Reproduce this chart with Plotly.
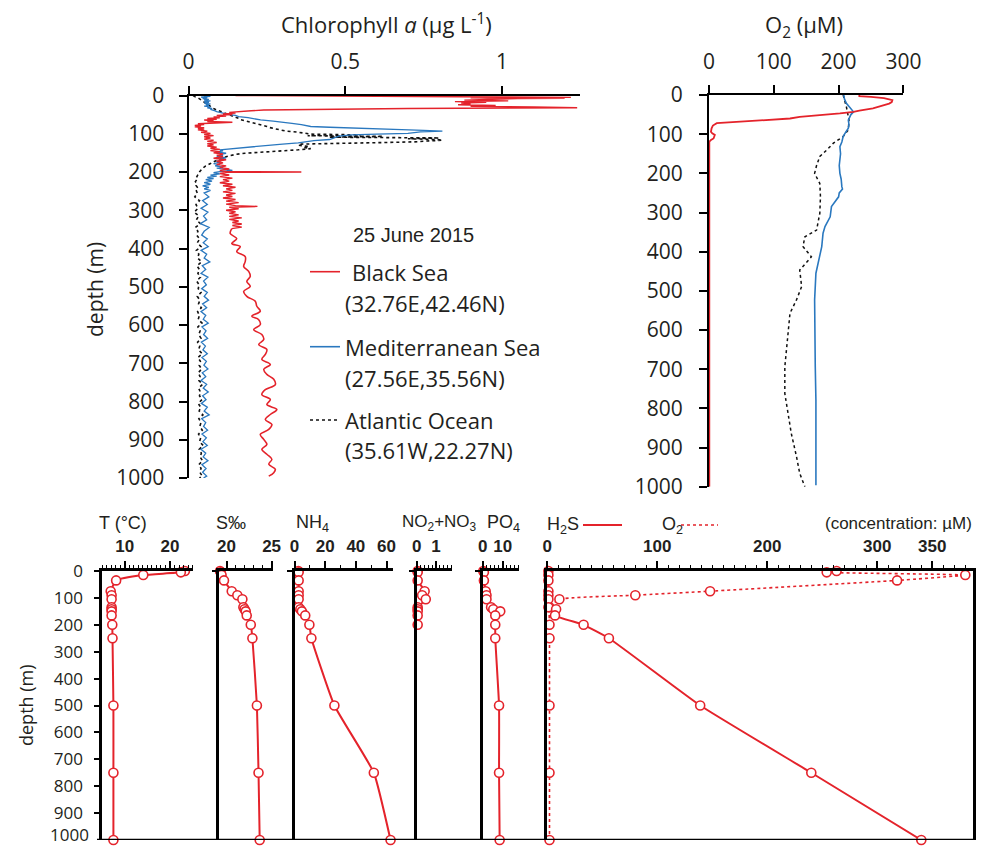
import plotly.graph_objects as go

# ---------------- data ----------------
# Chlorophyll a (ug/L), 25 June 2015
chl_bs_depth = [
    0, 1, 2, 3, 4, 5, 6, 7, 8, 10,
    12, 14, 16, 18, 20, 22, 24, 26, 28, 30,
    32, 34, 36, 38, 40, 42, 44, 46, 48, 50,
    52, 54, 56, 58, 60, 62, 64, 66, 68, 70,
    72, 74, 76, 78, 80, 82, 84, 86, 88, 90,
    93, 96, 99, 102, 105, 108, 111, 114, 117, 120,
    123, 126, 129, 132, 135, 138, 141, 144, 147, 150,
    153, 156, 160, 164, 168, 172, 176, 180, 184, 188,
    192, 196, 199, 200, 201, 204, 208, 212, 216, 220,
    224, 228, 232, 236, 240, 244, 248, 252, 256, 260,
    264, 268, 272, 276, 280, 284, 288, 290, 292, 296,
    300, 304, 308, 312, 316, 320, 324, 328, 332, 336,
    340, 344, 348,
    361, 374, 387, 395, 408, 421, 434, 447, 460, 473,
    486, 499, 512, 525, 538, 551, 564, 577, 586, 599,
    612, 625, 638, 651, 664, 677, 690, 703, 716, 729,
    742, 756, 769, 782, 795, 808, 821, 834, 847, 860,
    873, 886, 899, 912, 925, 938, 951, 964, 977, 986,
    995]
chl_bs = [
    0.15, 0.55, 0.3, 0.8, 1.0, 1.22, 0.9, 1.2, 1.05, 0.95,
    0.88, 1.02, 0.85, 0.95, 0.87, 0.9, 0.86, 0.98, 0.9, 1.1,
    1.24, 0.7, 0.4, 0.24, 0.2, 0.17, 0.13, 0.15, 0.11, 0.14,
    0.09, 0.12, 0.08, 0.1, 0.06, 0.09, 0.05, 0.08, 0.06, 0.14,
    0.05, 0.03, 0.05, 0.02, 0.04, 0.02, 0.05, 0.03, 0.05, 0.03,
    0.06, 0.04, 0.07, 0.05, 0.08, 0.05, 0.07, 0.05, 0.08, 0.06,
    0.09, 0.06, 0.08, 0.06, 0.09, 0.07, 0.1, 0.07, 0.1, 0.08,
    0.11, 0.09, 0.11, 0.08, 0.12, 0.09, 0.11, 0.09, 0.12, 0.1,
    0.13, 0.1, 0.12, 0.36, 0.12, 0.1, 0.13, 0.1, 0.14, 0.11,
    0.13, 0.1, 0.14, 0.11, 0.15, 0.12, 0.14, 0.11, 0.15, 0.12,
    0.14, 0.11, 0.15, 0.12, 0.16, 0.12, 0.15, 0.22, 0.13, 0.16,
    0.12, 0.15, 0.13, 0.16, 0.13, 0.17, 0.13, 0.16, 0.14, 0.17,
    0.14, 0.17, 0.138,
    0.133, 0.154, 0.138, 0.165, 0.154, 0.181, 0.181, 0.176, 0.192, 0.197,
    0.186, 0.197, 0.176, 0.186, 0.213, 0.218, 0.229, 0.202, 0.224, 0.229,
    0.208, 0.234, 0.240, 0.224, 0.250, 0.245, 0.234, 0.261, 0.240, 0.250,
    0.272, 0.277, 0.245, 0.234, 0.261, 0.250, 0.282, 0.261, 0.245, 0.266,
    0.256, 0.229, 0.240, 0.250, 0.234, 0.250, 0.266, 0.256, 0.277, 0.272,
    0.256]

chl_med_depth_upper = [
    0, 2, 4, 6, 8, 10, 12, 14, 16, 18,
    20, 22, 24, 26, 28, 30, 32, 34, 36, 38,
    40, 42, 44, 46, 48, 50, 52, 55, 58, 61,
    64, 67, 70, 73, 76, 79, 81, 83, 85, 87,
    89, 91, 93, 95, 97, 99, 101, 103, 106, 109,
    112, 115, 118, 121, 124, 127, 130, 133, 136, 139,
    142, 145, 148, 151, 154, 157, 160, 163, 166, 169,
    172, 175, 178, 181, 184, 187, 190, 193, 196, 199,
    202, 205, 208, 211, 214, 217, 220, 224, 228, 232,
    236, 240, 244, 248]
chl_med_upper = [
    0.05, 0.07, 0.04, 0.06, 0.045, 0.065, 0.05, 0.07, 0.05, 0.065,
    0.05, 0.07, 0.055, 0.065, 0.05, 0.07, 0.06, 0.075, 0.07, 0.08,
    0.085, 0.09, 0.1, 0.11, 0.12, 0.13, 0.15, 0.16, 0.19, 0.21,
    0.23, 0.27, 0.31, 0.33, 0.36, 0.38, 0.39, 0.45, 0.55, 0.62,
    0.68, 0.75, 0.81, 0.74, 0.72, 0.7, 0.6, 0.52, 0.48, 0.47,
    0.46, 0.45, 0.4, 0.37, 0.35, 0.3, 0.26, 0.22, 0.17, 0.12,
    0.1, 0.11, 0.09, 0.12, 0.1, 0.11, 0.09, 0.12, 0.1, 0.11,
    0.09, 0.1, 0.08, 0.1, 0.085, 0.11, 0.09, 0.12, 0.14, 0.1,
    0.08, 0.1, 0.07, 0.09, 0.06, 0.08, 0.055, 0.075, 0.05, 0.07,
    0.045, 0.065, 0.05, 0.07]

chl_deep_depth = [
    255, 265, 275, 285, 295, 305, 315, 325, 335, 345,
    355, 365, 375, 385, 395, 405, 415, 425, 435, 445,
    455, 465, 475, 485, 495, 505, 515, 525, 535, 545,
    555, 565, 575, 585, 595, 605, 615, 625, 635, 645,
    655, 665, 675, 685, 695, 705, 715, 725, 735, 745,
    755, 765, 775, 785, 795, 805, 815, 825, 835, 845,
    855, 865, 875, 885, 895, 905, 915, 925, 935, 945,
    955, 965, 975, 985, 995, 1000]
chl_med_deep = [
    0.05, 0.065, 0.045, 0.06, 0.04, 0.062, 0.048, 0.058, 0.038, 0.066,
    0.05, 0.042, 0.06, 0.047, 0.063, 0.04, 0.058, 0.05, 0.068, 0.044,
    0.055, 0.04, 0.062, 0.048, 0.057, 0.042, 0.06, 0.05, 0.064, 0.045,
    0.058, 0.04, 0.055, 0.047, 0.063, 0.043, 0.056, 0.048, 0.061, 0.041,
    0.054, 0.046, 0.06, 0.043, 0.057, 0.049, 0.062, 0.044, 0.055, 0.04,
    0.058, 0.047, 0.063, 0.045, 0.056, 0.041, 0.06, 0.05, 0.066, 0.042,
    0.055, 0.048, 0.061, 0.043, 0.057, 0.046, 0.06, 0.04, 0.055, 0.047,
    0.062, 0.043, 0.056, 0.045, 0.058, 0.048]

chl_atl_depth_upper = [
    0, 3, 6, 9, 12, 15, 18, 21, 24, 27,
    30, 33, 36, 39, 42, 45, 48, 51, 54, 57,
    60, 63, 66, 69, 72, 75, 78, 81, 84, 87,
    90, 93, 96, 99, 101, 103, 105, 107, 109, 111,
    113, 115, 117, 119, 121, 123, 125, 127, 130, 133,
    136, 139, 142, 145, 148, 151, 154, 157, 160, 163,
    166, 169, 172, 175, 178, 181, 184, 187, 190, 195,
    200, 205, 210, 215, 220, 225, 230, 235, 240, 245]
chl_atl_upper = [
    0.015, 0.02, 0.03, 0.035, 0.04, 0.045, 0.05, 0.055, 0.06, 0.065,
    0.07, 0.078, 0.085, 0.095, 0.1, 0.11, 0.12, 0.13, 0.14, 0.15,
    0.16, 0.165, 0.18, 0.19, 0.21, 0.22, 0.235, 0.25, 0.26, 0.28,
    0.29, 0.31, 0.35, 0.38, 0.39, 0.55, 0.38, 0.62, 0.45, 0.8,
    0.7, 0.79, 0.81, 0.76, 0.73, 0.62, 0.45, 0.36, 0.35, 0.38,
    0.37, 0.39, 0.35, 0.28, 0.22, 0.18, 0.15, 0.13, 0.12, 0.11,
    0.1, 0.09, 0.085, 0.075, 0.07, 0.06, 0.055, 0.05, 0.045, 0.04,
    0.035, 0.03, 0.028, 0.025, 0.027, 0.022, 0.026, 0.024, 0.028, 0.023]
chl_atl_deep = [
    0.028, 0.02, 0.035, 0.024, 0.03, 0.018, 0.033, 0.025, 0.038, 0.022,
    0.03, 0.026, 0.036, 0.028, 0.04, 0.025, 0.033, 0.029, 0.042, 0.027,
    0.035, 0.03, 0.038, 0.026, 0.034, 0.031, 0.04, 0.028, 0.036, 0.032,
    0.041, 0.029, 0.035, 0.031, 0.043, 0.03, 0.037, 0.033, 0.04, 0.029,
    0.036, 0.032, 0.044, 0.03, 0.038, 0.034, 0.042, 0.031, 0.037, 0.033,
    0.045, 0.032, 0.038, 0.035, 0.043, 0.031, 0.039, 0.034, 0.046, 0.033,
    0.04, 0.036, 0.044, 0.032, 0.039, 0.035, 0.047, 0.034, 0.041, 0.037,
    0.045, 0.033, 0.04, 0.036, 0.044, 0.035]

# O2 (uM), top-right panel
o2_bs_depth = [0, 3, 5, 8, 13, 18, 22, 27, 34, 40, 43, 47, 52, 56, 60, 64, 68, 72,
               78, 85, 94, 98, 102, 106, 111, 115, 119, 150, 300, 500, 700, 900, 1000]
o2_bs = [232, 232, 250, 270, 283, 282, 278, 268, 253, 232, 223, 202, 165, 140, 125, 90, 48, 12,
         6, 4, 3, 5, 9, 8, 7, 3, 0.5, 0.5, 0.5, 0.5, 0.5, 0.5, 0.5]
o2_med_depth = [0, 10, 21, 30, 38, 43, 50, 64, 75, 85, 95, 106, 120, 132, 150, 166, 180, 200,
                215, 234, 240, 250, 260, 285, 311, 336, 353, 387, 421, 455, 523, 609, 694,
                779, 864, 996]
o2_med = [208, 209, 212, 216, 220, 223, 219, 215, 216, 215, 211, 207, 205, 202, 203, 202, 201, 202,
          204, 205, 206, 201, 200, 189, 187, 179, 176, 174, 169, 165, 163, 163, 164,
          165, 165, 165]
o2_atl_depth = [0, 30, 64, 89, 106, 123, 140, 157, 180, 200, 226, 260, 302, 345, 362, 387, 413,
                447, 489, 523, 557, 609, 660, 694, 762, 813, 864, 923, 966, 1000]
o2_atl = [207, 212, 216, 215, 207, 192, 182, 171, 166, 163, 171, 172, 171, 166, 148, 145, 158,
          140, 143, 135, 125, 122, 120, 117, 117, 122, 127, 135, 140, 148]

# Bottom panels: bottle profiles (Black Sea)
t_depth = [0, 5, 15, 35, 75, 90, 105, 135, 142, 150, 165, 200, 250, 500, 750, 1000]
t_val = [23.3, 22.4, 14.1, 8.1, 6.9, 7.1, 7.1, 7.1, 7.1, 7.1, 7.1, 7.25, 7.3, 7.5, 7.5, 7.5]
s_depth = [0, 5, 15, 35, 75, 90, 105, 135, 142, 150, 165, 200, 250, 500, 750, 1000]
s_val = [19.28, 19.35, 19.45, 19.72, 20.58, 21.2, 21.76, 21.87, 22.0, 22.13, 22.24, 22.69,
         22.87, 23.37, 23.55, 23.68]
nh4_depth = [0, 5, 35, 75, 90, 105, 135, 142, 150, 165, 200, 250, 500, 750, 1000]
nh4_val = [2.5, 2.7, 2.7, 2.7, 2.7, 2.7, 2.7, 3.8, 4.8, 7.0, 9.7, 11.0, 26.0, 51.7, 62.6]
nox_depth = [0, 5, 35, 75, 90, 105, 135, 142, 150, 165, 200]
nox_val = [0.05, 0.05, 0.05, 0.41, 0.28, 0.47, 0.05, 0.05, 0.05, 0.05, 0.05]
po4_depth = [0, 5, 35, 75, 90, 105, 135, 142, 150, 165, 200, 250, 500, 750, 1000]
po4_val = [0.3, 0.6, 0.6, 1.5, 1.9, 1.9, 4.2, 5.3, 8.8, 6.3, 6.3, 6.3, 8.2, 8.2, 8.5]
h2s_depth = [0, 15, 35, 75, 90, 105, 135, 142, 165, 200, 250, 500, 750, 1000]
h2s_val = [1, 1, 1, 1, 1, 1, 1, 8, 7, 33, 56, 139, 240, 340]
o2b_depth = [0, 5, 15, 35, 75, 90, 105, 135, 200, 250, 500, 750, 1000]
o2b_val = [263, 254, 380, 318, 148, 80, 11, 2, 2, 2, 2, 2, 2]

# tick labels
depth_ticks = [0, 100, 200, 300, 400, 500, 600, 700, 800, 900, 1000]
depth_text = ["0", "100", "200", "300", "400", "500", "600", "700", "800", "900", "1000"]
chl_ticks = [0, 0.5, 1]
chl_minor = [0, 0.25, 0.5, 0.75, 1, 1.25]
o2_ticks = [0, 100, 200, 300]
o2_minor = [0, 50, 100, 150, 200, 250, 300]
t_ticks = [10, 20]
s_ticks = [20, 25]
nh4_ticks = [0, 20, 40, 60]
nox_ticks = [0, 1]
po4_ticks = [0, 10]
h2s_ticks = [0, 100, 200, 300, 350]

for a, b in [(chl_bs_depth, chl_bs), (chl_med_depth_upper, chl_med_upper),
             (chl_deep_depth, chl_med_deep), (chl_atl_depth_upper, chl_atl_upper),
             (chl_deep_depth, chl_atl_deep), (o2_bs_depth, o2_bs), (o2_med_depth, o2_med),
             (o2_atl_depth, o2_atl), (t_depth, t_val), (s_depth, s_val), (nh4_depth, nh4_val),
             (nox_depth, nox_val), (po4_depth, po4_val), (h2s_depth, h2s_val),
             (o2b_depth, o2b_val)]:
    assert len(a) == len(b), (len(a), len(b))

# ---------------- styling ----------------
W, H = 983, 848
def fx(x): return x / W
def fy(y): return 1 - y / H

RED = "#E4232B"
BLUE = "#2A78BF"
BLACK = "#111111"
TXT = "#231F20"
SANS = "'Open Sans', Lato, sans-serif"
ARIAL = "'Liberation Sans', Arial, sans-serif"
NARROW = "'Liberation Sans Narrow', 'Arial Narrow', 'Liberation Sans', sans-serif"

fig = go.Figure()

def add_line(x, y, xa, ya, color, width, dash="solid", shape="linear"):
    fig.add_trace(go.Scatter(x=x, y=y, xaxis=xa, yaxis=ya, mode="lines",
                             line=dict(color=color, width=width, dash=dash, shape=shape),
                             hoverinfo="skip", cliponaxis=False))

# chlorophyll panel
split = chl_bs_depth.index(348)
add_line(chl_atl_upper + chl_atl_deep, chl_atl_depth_upper + chl_deep_depth, "x", "y", BLACK, 1.6, "dot")
add_line(chl_med_upper + chl_med_deep, chl_med_depth_upper + chl_deep_depth, "x", "y", BLUE, 1.3)
add_line(chl_bs[:split + 1], chl_bs_depth[:split + 1], "x", "y", RED, 1.4)
add_line(chl_bs[split:], chl_bs_depth[split:], "x", "y", RED, 1.6, shape="spline")

# O2 panel
add_line(o2_atl, o2_atl_depth, "x2", "y2", BLACK, 1.5, "dot")
add_line(o2_med, o2_med_depth, "x2", "y2", BLUE, 1.6)
add_line(o2_bs, o2_bs_depth, "x2", "y2", RED, 1.8)

def add_prof(x, y, xa, ya, dash="solid"):
    fig.add_trace(go.Scatter(x=x, y=y, xaxis=xa, yaxis=ya, mode="lines+markers",
                             line=dict(color=RED, width=2 if dash == "solid" else 1.6, dash=dash,
                                       shape="spline", smoothing=0.4),
                             marker=dict(symbol="circle", size=9, color="white",
                                         line=dict(color=RED, width=1.6)),
                             hoverinfo="skip", cliponaxis=False))

add_prof(t_val, t_depth, "x3", "y3")
add_prof(s_val, s_depth, "x4", "y4")
add_prof(nh4_val, nh4_depth, "x5", "y5")
add_prof(nox_val, nox_depth, "x6", "y6")
add_prof(po4_val, po4_depth, "x7", "y7")
add_prof(o2b_val, o2b_depth, "x8", "y8", dash="dot")
add_prof(h2s_val, h2s_depth, "x8", "y8")

base = dict(showgrid=False, zeroline=False, showline=True, linecolor="black",
            tickcolor="black", fixedrange=True, automargin=False, ticklabeloverflow="allow")
overlay = dict(showgrid=False, zeroline=False, showline=False, showticklabels=False,
               tickcolor="black", fixedrange=True, automargin=False)

top_font = dict(family=SANS, size=21, color=TXT)
bot_yfont = dict(family=SANS, size=17, color=TXT)
bot_xfont = dict(family=NARROW, size=17, color=TXT, weight="bold")

layout = dict(
    template="none",
    width=W, height=H, margin=dict(l=0, r=0, t=0, b=0, autoexpand=False),
    paper_bgcolor="white", plot_bgcolor="rgba(0,0,0,0)", showlegend=False,
    xaxis=dict(base, domain=[fx(188.5), fx(580.3)], range=[0, 1.25], side="top", anchor="y",
               tickmode="array", tickvals=chl_ticks, ticks="outside", ticklen=8, tickwidth=1.5,
               linewidth=2, tickfont=top_font, ticklabelstandoff=8),
    xaxis9=dict(overlay, overlaying="x", anchor="y", side="top", range=[0, 1.25], tickmode="array",
                tickvals=chl_minor, ticks="inside", ticklen=8, tickwidth=1.5),
    yaxis=dict(base, domain=[fy(478), fy(95.5)], range=[1000, 0], anchor="x", tickmode="array",
               tickvals=depth_ticks, ticks="outside", ticklen=8, tickwidth=1.5, linewidth=2,
               tickfont=top_font, ticklabelstandoff=10),
    xaxis2=dict(base, domain=[fx(709), fx(903.4)], range=[0, 300], side="top", anchor="y2",
                tickmode="array", tickvals=o2_ticks, ticks="outside", ticklen=8, tickwidth=1.5,
                linewidth=2, tickfont=top_font, ticklabelstandoff=8),
    xaxis10=dict(overlay, overlaying="x2", anchor="y2", side="top", range=[0, 300], tickmode="array",
                 tickvals=o2_minor, ticks="inside", ticklen=8, tickwidth=1.5),
    yaxis2=dict(base, domain=[fy(486.7), fy(95)], range=[1000, 0], anchor="x2", tickmode="array",
                tickvals=depth_ticks, ticks="outside", ticklen=8, tickwidth=1.5, linewidth=2,
                tickfont=top_font, ticklabelstandoff=12),
)

bot_dom_y = [fy(840), fy(571)]
panels = [
    # axis idx, x px domain, range, major ticks, minor dtick
    (3, (102.1, 192.6), [5, 25], t_ticks, 1),
    (4, (219.3, 272.5), [19.2, 25.1], s_ticks, 1),
    (5, (294.5, 392.7), [0, 64], nh4_ticks, 10),
    (6, (416.7, 451.7), [0, 1.81], nox_ticks, 0.2),
    (7, (482.7, 519.0), [0, 18.2], po4_ticks, 2),
    (8, (547.3, 973.0), [0, 387], h2s_ticks, 10),
]
for i, (x0, x1), rng, tv, mdt in panels:
    layout[f"xaxis{i}"] = dict(base, domain=[fx(x0), fx(x1)], range=rng, side="top",
                               anchor=f"y{i}", tickmode="array", tickvals=tv, ticks="outside",
                               ticklen=7, tickwidth=1.5, linewidth=2.5, tickfont=bot_xfont,
                               ticklabelstandoff=2,
                               minor=dict(tickmode="linear", tick0=0, dtick=mdt, ticks="outside",
                                          ticklen=3.5, tickwidth=1, tickcolor="black"))
    ya = dict(base, domain=bot_dom_y, range=[1000, 0], anchor=f"x{i}", linewidth=2.5)
    if i == 3:
        # the last label ("1000") sits on the page edge; it is drawn as an annotation below
        ya.update(tickmode="array", tickvals=depth_ticks[:-1], ticktext=depth_text[:-1],
                  ticks="outside", ticklen=5, tickwidth=1.5, tickfont=bot_yfont,
                  ticklabelstandoff=8)
    elif i == 8:
        ya.update(mirror=True, ticks="", showticklabels=False)
    else:
        ya.update(tickmode="array", tickvals=[0], ticks="outside", ticklen=5, tickwidth=2,
                  showticklabels=False)
    layout[f"yaxis{i}"] = ya

fig.update_layout(**layout)

def ann(text, x, y, size, family, xanchor="center", angle=0, yanchor="middle", yref="paper"):
    fig.add_annotation(text=text, x=fx(x), y=(fy(y) if yref == "paper" else y), xref="paper",
                       yref=yref, showarrow=False,
                       font=dict(size=size, family=family, color=TXT), xanchor=xanchor,
                       yanchor=yanchor, textangle=angle)

ann("Chlorophyll <i>a</i> (µg L<sup>-1</sup>)", 386.7, 24, 22, SANS)
ann("O<sub>2</sub> (µM)", 804, 26, 22, SANS)
ann("depth (m)", 95, 290, 21, SANS, angle=-90)
ann("25 June 2015", 413, 235, 20, ARIAL)
ann("Black Sea", 350, 271.7, 22, SANS, "left")
ann("(32.76E,42.46N)", 343, 303, 22, SANS, "left")
ann("Mediterranean Sea", 343, 346.7, 22, SANS, "left")
ann("(27.56E,35.56N)", 343, 378, 22, SANS, "left")
ann("Atlantic Ocean", 343, 420, 22, SANS, "left")
ann("(35.61W,22.27N)", 343, 450, 22, SANS, "left")

ann("depth (m)", 26, 705, 18, SANS, angle=-90)
ann(depth_text[-1], 91, 847.5, 17, SANS, "right", yanchor="bottom")
ann("T (°C)", 97, 523, 18, ARIAL, "left")
ann("S‰", 214, 523, 18, ARIAL, "left")
ann("NH<sub>4</sub>", 294, 523, 18, ARIAL, "left")
ann("NO<sub>2</sub>+NO<sub>3</sub>", 400, 523, 17, ARIAL, "left")
ann("PO<sub>4</sub>", 485, 523, 18, ARIAL, "left")
ann("H<sub>2</sub>S", 545, 525, 18, ARIAL, "left")
ann("O<sub>2</sub>", 660, 525, 18, ARIAL, "left")
ann("(concentration: µM)", 974, 523, 17, ARIAL, "right")

shapes = [
    dict(type="line", xref="paper", yref="paper", x0=fx(310), x1=fx(340), y0=fy(271.7), y1=fy(271.7),
         line=dict(color=RED, width=1.6)),
    dict(type="line", xref="paper", yref="paper", x0=fx(310), x1=fx(340), y0=fy(346.7), y1=fy(346.7),
         line=dict(color=BLUE, width=1.6)),
    dict(type="line", xref="paper", yref="paper", x0=fx(310), x1=fx(340), y0=fy(420), y1=fy(420),
         line=dict(color=BLACK, width=1.6, dash="dot")),
    dict(type="line", xref="paper", yref="paper", x0=fx(583), x1=fx(622), y0=fy(525), y1=fy(525),
         line=dict(color=RED, width=2)),
    dict(type="line", xref="paper", yref="paper", x0=fx(681), x1=fx(718), y0=fy(525), y1=fy(525),
         line=dict(color=RED, width=1.6, dash="dot")),
    dict(type="line", xref="paper", yref="y3", x0=fx(97), x1=fx(973), y0=1000, y1=1000,
         line=dict(color="black", width=2.5)),
]
fig.update_layout(shapes=shapes)

fig.write_html("out.html", config={"displayModeBar": False},
               post_script="document.body.style.margin='0';document.body.style.overflow='hidden';")
